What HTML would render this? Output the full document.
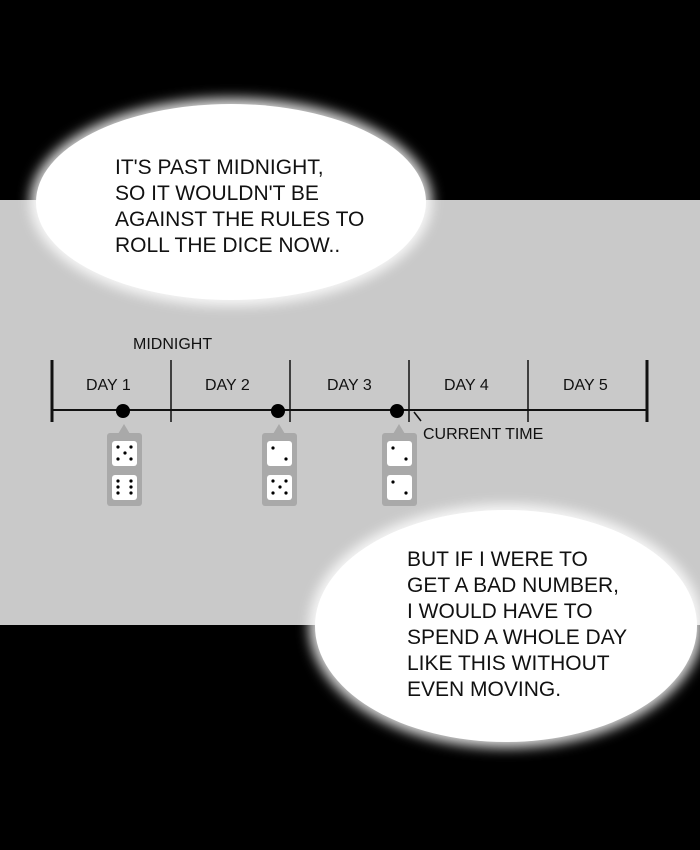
<!DOCTYPE html>
<html><head><style>
html,body{margin:0;padding:0;}
body{width:700px;height:850px;background:#000;position:relative;overflow:hidden;font-family:"Liberation Sans","DejaVu Sans",sans-serif;}
.panel{position:absolute;left:0;top:200px;width:700px;height:425px;background:#c9c9c9;}
.bub{position:absolute;background:#fff;border-radius:50%;box-shadow:0 0 12px 6px rgba(255,255,255,0.85);}
.txt{position:absolute;font-size:21px;line-height:26px;color:#111;letter-spacing:0px;}
</style></head><body>
<div class="panel"></div>
<svg width="700" height="850" style="position:absolute;left:0;top:0">
  <g stroke="#111" fill="none">
    <line x1="52" y1="410" x2="647" y2="410" stroke-width="2"/>
    <line x1="52" y1="360" x2="52" y2="422" stroke-width="3"/>
    <line x1="647" y1="360" x2="647" y2="422" stroke-width="3"/>
    <line x1="171" y1="360" x2="171" y2="422" stroke-width="1.5"/>
    <line x1="290" y1="360" x2="290" y2="422" stroke-width="1.5"/>
    <line x1="409" y1="360" x2="409" y2="422" stroke-width="1.5"/>
    <line x1="528" y1="360" x2="528" y2="422" stroke-width="1.5"/>
    <line x1="414" y1="412" x2="421" y2="421" stroke-width="1.5"/>
  </g>
  <g fill="#000">
    <circle cx="123" cy="411" r="7"/><circle cx="278" cy="411" r="7"/><circle cx="397" cy="411" r="7"/>
  </g>
  <g font-size="16" fill="#111" font-family="Liberation Sans, sans-serif">
    <text x="133" y="349">MIDNIGHT</text>
    <text x="86" y="390">DAY 1</text>
    <text x="205" y="390">DAY 2</text>
    <text x="327" y="390">DAY 3</text>
    <text x="444" y="390">DAY 4</text>
    <text x="563" y="390">DAY 5</text>
    <text x="423" y="439">CURRENT TIME</text>
  </g>
  <g fill="#a9a9a9">
    <rect x="107" y="433" width="35" height="73" rx="3"/><polygon points="118,434 124,424 130,434"/>
    <rect x="262" y="433" width="35" height="73" rx="3"/><polygon points="273,434 279,424 285,434"/>
    <rect x="382" y="433" width="35" height="73" rx="3"/><polygon points="393,434 399,424 405,434"/>
  </g>
  <g fill="#fff">
    <rect x="112" y="441" width="25" height="25" rx="3"/><rect x="112" y="475" width="25" height="25" rx="3"/>
    <rect x="267" y="441" width="25" height="25" rx="3"/><rect x="267" y="475" width="25" height="25" rx="3"/>
    <rect x="387" y="441" width="25" height="25" rx="3"/><rect x="387" y="475" width="25" height="25" rx="3"/>
  </g>
  <g fill="#000">
    <circle cx="118" cy="447" r="1.6"/><circle cx="131" cy="447" r="1.6"/><circle cx="125" cy="453" r="1.6"/><circle cx="118" cy="459" r="1.6"/><circle cx="131" cy="459" r="1.6"/>
    <circle cx="118" cy="481" r="1.6"/><circle cx="131" cy="481" r="1.6"/><circle cx="118" cy="487" r="1.6"/><circle cx="131" cy="487" r="1.6"/><circle cx="118" cy="493" r="1.6"/><circle cx="131" cy="493" r="1.6"/>
    <circle cx="273" cy="448" r="1.6"/><circle cx="286" cy="459" r="1.6"/>
    <circle cx="273" cy="481" r="1.6"/><circle cx="286" cy="481" r="1.6"/><circle cx="280" cy="487" r="1.6"/><circle cx="273" cy="493" r="1.6"/><circle cx="286" cy="493" r="1.6"/>
    <circle cx="393" cy="448" r="1.6"/><circle cx="406" cy="459" r="1.6"/>
    <circle cx="393" cy="482" r="1.6"/><circle cx="406" cy="493" r="1.6"/>
  </g>
</svg>
<div class="bub" style="left:36px;top:104px;width:390px;height:196px;"></div>
<div class="bub" style="left:315px;top:510px;width:382px;height:232px;"></div>
<div class="txt" style="left:115px;top:155px;">IT'S PAST MIDNIGHT,<br>SO IT WOULDN'T BE<br>AGAINST THE RULES TO<br>ROLL THE DICE NOW..</div>
<div class="txt" style="left:407px;top:547px;">BUT IF I WERE TO<br>GET A BAD NUMBER,<br>I WOULD HAVE TO<br>SPEND A WHOLE DAY<br>LIKE THIS WITHOUT<br>EVEN MOVING.</div>
</body></html>
